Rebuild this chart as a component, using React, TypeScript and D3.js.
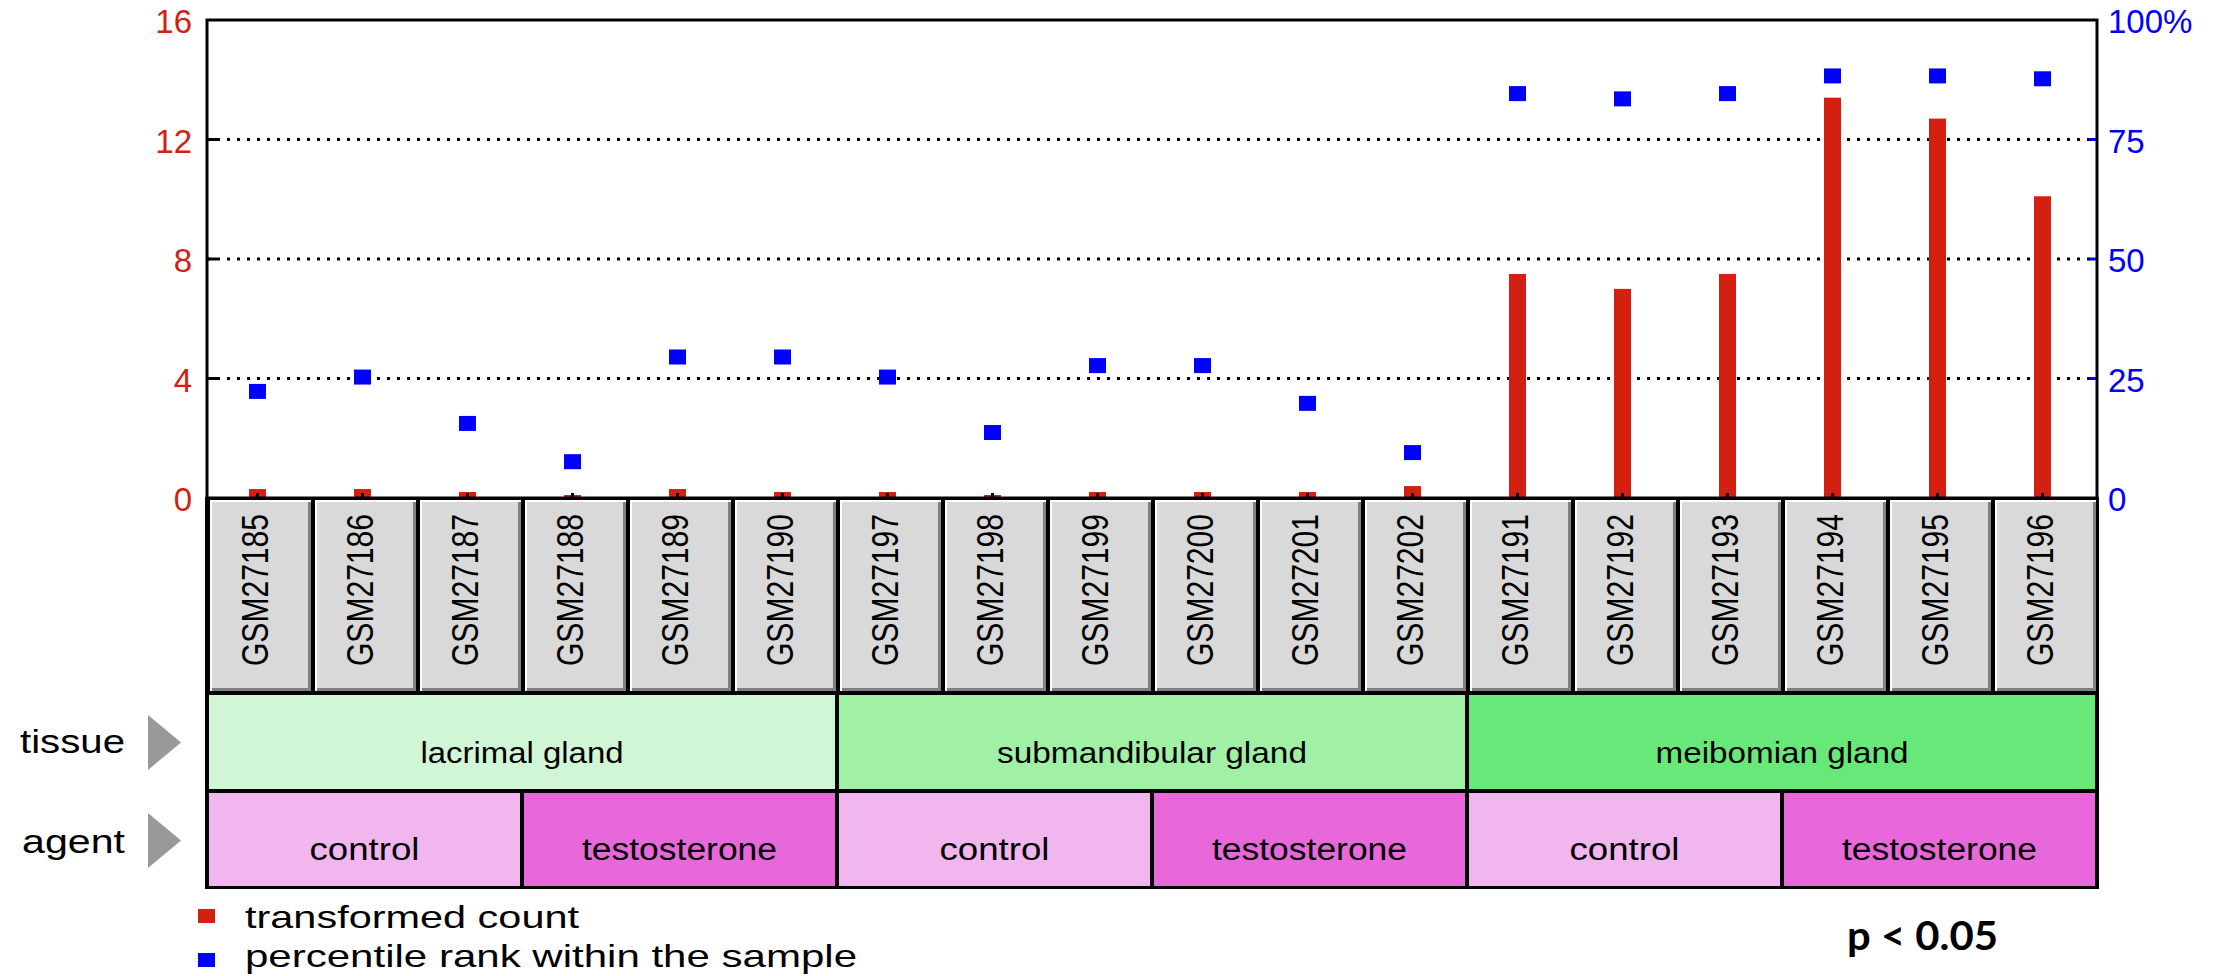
import React from "react";
import * as d3 from "d3";

// sample ids, in plotted order
const samples = [
  "GSM27185", "GSM27186", "GSM27187", "GSM27188", "GSM27189", "GSM27190",
  "GSM27197", "GSM27198", "GSM27199", "GSM27200", "GSM27201", "GSM27202",
  "GSM27191", "GSM27192", "GSM27193", "GSM27194", "GSM27195", "GSM27196",
];
const counts = [
  0.3, 0.3, 0.2, 0.1, 0.3, 0.2,
  0.2, 0.1, 0.2, 0.2, 0.2, 0.4,
  7.5, 7.0, 7.5, 13.4, 12.7, 10.1,
];
const percentiles = [
  22.3, 25.3, 15.6, 7.6, 29.5, 29.5,
  25.3, 13.7, 27.7, 27.7, 19.8, 9.5,
  84.6, 83.5, 84.6, 88.3, 88.3, 87.7,
];
const leftTicks = [0, 4, 8, 12, 16];
const rightTicks = [0, 25, 50, 75, 100];

const tissues = ["lacrimal gland", "submandibular gland", "meibomian gland"];
const tissueSpan = [6, 6, 6];
const tissueColors = ["#d0f6d6", "#a0f0a5", "#68e878"];
const tissueTextW = [203, 310, 253];

const agents = ["control", "testosterone", "control", "testosterone", "control", "testosterone"];
const agentSpan = [3, 3, 3, 3, 3, 3];
const agentColors = ["#f2b6ee", "#e868dc"];
const agentTextW = { control: 110, testosterone: 195 } as Record<string, number>;

const W = 2226;
const H = 976;
const X0 = 207, X1 = 2097, YT = 20, YB = 498;
const FONT = "'Liberation Sans', Arial, sans-serif";
const RED = "#d42010";
const BLUE = "#0000ff";

function groups(names: string[], spans: number[]) {
  let i = 0;
  return names.map((n, k) => {
    const g = { name: n, k, from: samples[i], to: samples[i + spans[k] - 1] };
    i += spans[k];
    return g;
  });
}

export default function App() {
  const x = d3.scaleBand().domain(samples).range([X0, X1]);
  const bw = x.bandwidth();
  const y = d3.scaleLinear().domain([0, 16]).range([YB, YT]);
  const yp = d3.scaleLinear().domain([0, 100]).range([YB, YT]);
  const cx = (s: string) => (x(s) as number) + bw / 2 - 2;

  const tg = groups(tissues, tissueSpan);
  const ag = groups(agents, agentSpan);

  return (
    <svg width={W} height={H} style={{ position: "absolute", left: 0, top: 0 }} fontFamily={FONT}>
      <rect width={W} height={H} fill="#fff" />

      {/* grid */}
      {leftTicks.slice(1, -1).map((t) => (
        <g key={t}>
          <line x1={X0} x2={X1} y1={y(t)} y2={y(t)} stroke="#000" strokeWidth={3} strokeDasharray="3 7" />
          <line x1={X0} x2={X0 + 10} y1={y(t)} y2={y(t)} stroke="#000" strokeWidth={3} />
          <line x1={X1 - 8} x2={X1} y1={y(t)} y2={y(t)} stroke={BLUE} strokeWidth={3} />
        </g>
      ))}

      {/* bars */}
      {samples.map((s, i) => (
        <rect key={s} x={cx(s) - 8.5} y={y(counts[i])} width={17} height={YB - y(counts[i])} fill={RED} />
      ))}
      {samples.map((s) => (
        <rect key={s + "t"} x={cx(s) - 1.5} y={YB - 5} width={3} height={5} fill="#000" />
      ))}
      {/* percentile points */}
      {samples.map((s, i) => (
        <rect key={s + "p"} x={cx(s) - 8.5} y={yp(percentiles[i]) - 7.5} width={17} height={15} fill={BLUE} />
      ))}

      {/* axis labels */}
      {leftTicks.map((t) => (
        <text key={t} x={192} y={y(t) + 13} textAnchor="end" fontSize={33} fill={RED}>{t}</text>
      ))}
      {rightTicks.map((t) => (
        <text key={t} x={2108} y={yp(t) + 13} fontSize={33} fill={BLUE}>{t === 100 ? "100%" : t}</text>
      ))}

      {/* bottom block */}
      <rect x={205} y={497} width={1894} height={392} fill="#000" />
      {samples.map((s) => {
        const a = x(s) as number;
        const b = a + bw;
        return (
          <g key={s + "c"}>
            <rect x={a + 3} y={500} width={b - a - 4} height={191} fill="#fff" />
            <rect x={a + 5} y={502} width={b - a - 6} height={189} fill="#808080" />
            <rect x={a + 5} y={502} width={b - a - 9} height={186} fill="#d9d9d9" />
            <text
              transform={`translate(${a + bw / 2 + 8.5},514) rotate(-90)`}
              textAnchor="end"
              fontSize={37}
              textLength={152}
              lengthAdjust="spacingAndGlyphs"
              fill="#000"
            >
              {s}
            </text>
          </g>
        );
      })}

      {tg.map((g) => {
        const a = x(g.from) as number;
        const b = (x(g.to) as number) + bw;
        return (
          <g key={g.name}>
            <rect x={a + 2} y={695} width={b - a - 4} height={94} fill={tissueColors[g.k]} />
            <text x={(a + b) / 2} y={763} textAnchor="middle" fontSize={29} textLength={tissueTextW[g.k]} lengthAdjust="spacingAndGlyphs">
              {g.name}
            </text>
          </g>
        );
      })}
      {ag.map((g) => {
        const a = x(g.from) as number;
        const b = (x(g.to) as number) + bw;
        return (
          <g key={g.k}>
            <rect x={a + 2} y={793} width={b - a - 4} height={93} fill={agentColors[g.k % 2]} />
            <text x={(a + b) / 2} y={860} textAnchor="middle" fontSize={31} textLength={agentTextW[g.name]} lengthAdjust="spacingAndGlyphs">
              {g.name}
            </text>
          </g>
        );
      })}

      {/* plot frame */}
      <rect x={X0} y={YT} width={X1 - X0} height={YB - YT} fill="none" stroke="#000" strokeWidth={3} />

      {/* row headers */}
      <text x={20} y={753} fontSize={34} textLength={105} lengthAdjust="spacingAndGlyphs">tissue</text>
      <polygon points="148,715 181,742.5 148,770" fill="#999" />
      <text x={22} y={853} fontSize={34} textLength={103} lengthAdjust="spacingAndGlyphs">agent</text>
      <polygon points="148,813 181,840.5 148,868" fill="#999" />

      {/* legend */}
      <rect x={198} y={909} width={17} height={14} fill={RED} />
      <text x={245} y={928} fontSize={32} textLength={334} lengthAdjust="spacingAndGlyphs">transformed count</text>
      <rect x={198} y={953} width={17} height={14} fill={BLUE} />
      <text x={245} y={967} fontSize={32} textLength={612} lengthAdjust="spacingAndGlyphs">percentile rank within the sample</text>

      <text x={1847} y={950} fontSize={40} fontWeight="bold" fontFamily="Lato, 'Open Sans', sans-serif" textLength={151} lengthAdjust="spacingAndGlyphs">
        p &lt; 0.05
      </text>
    </svg>
  );
}
